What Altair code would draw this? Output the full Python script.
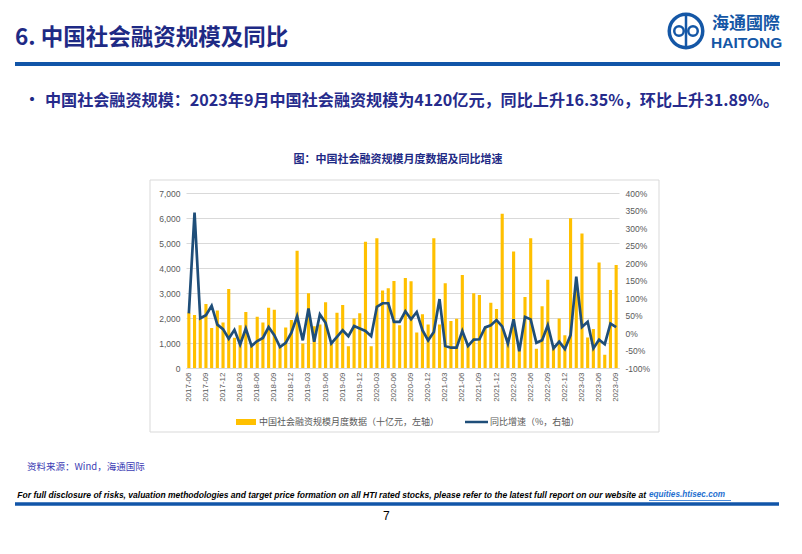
import altair as alt
import pandas as pd

# ---------------- data ----------------
months = []
_y, _m = 2017, 6
while (_y, _m) <= (2023, 9):
    months.append(f"{_y}-{_m:02d}")
    _m += 1
    if _m > 12:
        _y += 1
        _m = 1

tick_labels = months[::3]

# 中国社会融资规模月度数据（十亿元，左轴）
tsf = [2210, 2120, 1960, 2560, 1600, 2300, 1820, 3160, 1210, 1710,
       2240, 880, 2050, 1820, 2410, 2330, 850, 1620, 1920, 4690,
       980, 2990, 1670, 1740, 2630, 980, 2210, 2520, 870, 1980,
       2190, 5050, 870, 5190, 3100, 3190, 3480, 1710, 3600, 3470,
       1420, 2150, 1740, 5190, 1740, 3390, 1880, 1970, 3720, 920,
       2990, 2920, 1600, 2610, 2360, 6170, 1220, 4660, 910, 2840,
       5190, 770, 2470, 3530, 850, 1980, 1310, 5990, 3160, 5380,
       1220, 1560, 4220, 530, 3120, 4120]

# 同比增速（%，右轴）
yoy = [56, 344, 42, 51, 78, 24, 11, -16, 9, -33,
       13, -37, -23, -14, 17, -6, -40, -28, 1, 48,
       -21, 70, -25, 53, 29, -30, -11, 8, -9, 20,
       13, 6, -9, 75, 85, 85, 32, 32, 62, 39,
       60, 8, -21, 3, 97, -37, -42, -42, 6, -37,
       -19, -18, 16, 22, 37, 19, -30, 39, -52, 46,
       39, -28, -21, 22, -44, -25, -46, -6, 161, 17,
       32, -44, -19, -32, 27, 17]

left_ticks = [0, 1000, 2000, 3000, 4000, 5000, 6000, 7000]
right_ticks = [-100, -50, 0, 50, 100, 150, 200, 250, 300, 350, 400]

df = pd.DataFrame({"month": months, "tsf": tsf, "yoy": yoy})
one = pd.DataFrame({"k": [0]})

# ---------------- layout ----------------
PL, PT = 186, 193          # page position of the plot area
W, H = 433, 175


def px(x):
    return x - PL


def py(y):
    return y - PT


CJK = "Noto Sans CJK SC"
GRAY = "#595959"

# ---------------- main chart ----------------
xscale = alt.Scale(paddingInner=0.45, paddingOuter=0.225)

bars = alt.Chart(df).mark_bar(color="#FFC000").encode(
    x=alt.X("month:N", sort=None, scale=xscale,
            axis=alt.Axis(values=tick_labels, labelAngle=-90, title=None,
                          labelFont="Liberation Sans", labelFontSize=8,
                          labelColor=GRAY, ticks=False, domainColor="#D9D9D9",
                          labelPadding=4)),
    y=alt.Y("tsf:Q", scale=alt.Scale(domain=[0, 7000], nice=False),
            axis=alt.Axis(values=left_ticks, format=",d", title=None, orient="left",
                          labelFont="Liberation Sans", labelFontSize=8.5,
                          labelColor=GRAY, ticks=False, domain=False,
                          grid=True, gridColor="#D9D9D9", labelPadding=6)),
)

line = alt.Chart(df).mark_line(color="#1F4E79", strokeWidth=2.7).encode(
    x=alt.X("month:N", sort=None),
    y=alt.Y("yoy:Q", scale=alt.Scale(domain=[-100, 400], nice=False),
            axis=alt.Axis(values=right_ticks, labelExpr="datum.value + '%'",
                          title=None, orient="right",
                          labelFont="Liberation Sans", labelFontSize=8.5,
                          labelColor=GRAY, ticks=False, domain=False,
                          grid=False, labelPadding=6)),
)


def text(s, x, y, size, color, weight="normal", align="left", font=CJK,
         style="normal", baseline="middle"):
    return alt.Chart(one).mark_text(
        text=s, fontSize=size, color=color, fontWeight=weight, align=align,
        font=font, fontStyle=style, baseline=baseline,
    ).encode(x=alt.value(px(x)), y=alt.value(py(y)))


def hrule(x1, x2, y, color, width):
    return alt.Chart(one).mark_rule(color=color, strokeWidth=width).encode(
        x=alt.value(px(x1)), x2=alt.value(px(x2)), y=alt.value(py(y)))


def rect(x1, x2, y1, y2, **kw):
    return alt.Chart(one).mark_rect(**kw).encode(
        x=alt.value(px(x1)), x2=alt.value(px(x2)),
        y=alt.value(py(y1)), y2=alt.value(py(y2)))


def ring(cx, cy, r, r2, color):
    return alt.Chart(one).mark_arc(radius=r, radius2=r2, theta=0, theta2=6.2832,
                                   color=color).encode(
        x=alt.value(px(cx)), y=alt.value(py(cy)))


NAVY = "#1E2A85"
BLUE = "#1457A6"

frame = rect(150, 659, 180, 432, fill="white", fillOpacity=0, stroke="#D9D9D9",
             strokeWidth=1)

layers = [
    frame,
    # header
    text("6. 中国社会融资规模及同比", 15, 38, 22.5, NAVY, weight="bold"),
    ring(686, 31, 18.5, 15, BLUE),
    ring(679, 31, 6, 3.5, BLUE),
    ring(693, 31, 6, 3.5, BLUE),
    alt.Chart(one).mark_rule(color=BLUE, strokeWidth=2.5).encode(
        x=alt.value(px(686)), y=alt.value(py(16)), y2=alt.value(py(46))),
    text("海通國際", 712, 24, 17, BLUE, weight="bold"),
    text("HAITONG", 711, 43, 15.5, BLUE, weight="bold", font="Liberation Sans"),
    hrule(15, 780, 64, "#1155A8", 4),
    # bullet
    text("•", 24, 100, 16, NAVY, weight="bold"),
    text("中国社会融资规模：2023年9月中国社会融资规模为4120亿元，同比上升16.35%，环比上升31.89%。",
         45, 101, 16.1, "#262B8C", weight="bold"),
    text("图：中国社会融资规模月度数据及同比增速", 398, 160, 11, NAVY, weight="bold",
         align="center"),
    # legend
    rect(236, 256, 419, 425, fill="#FFC000"),
    text("中国社会融资规模月度数据（十亿元，左轴）", 259, 422, 9, GRAY),
    hrule(465, 488, 422, "#1F4E79", 2.5),
    text("同比增速（%，右轴）", 490, 422, 9, GRAY),
    # footer
    text("资料来源：Wind，海通国际", 27, 467, 9.5, "#3C3CB4"),
    text("For full disclosure of risks, valuation methodologies and target price formation on all HTI rated stocks, please refer to the latest full report on our website at",
         646, 495, 8.5, "black", weight="bold", align="right",
         font="Liberation Sans", style="italic"),
    text("equities.htisec.com", 649, 495, 8.2, "#1F6FD0", weight="bold",
         font="Liberation Sans", style="italic"),
    hrule(649, 731, 500.5, "#1F6FD0", 0.8),
    hrule(15, 779, 504, "#1155A8", 3.5),
    text("7", 383, 516, 12, "black", font="Liberation Sans"),
]

main = alt.layer(bars, line).resolve_scale(y="independent")

chart = alt.layer(*layers[:1], main, *layers[1:]).resolve_scale(y="independent").properties(
    width=W, height=H,
    padding={"left": PL - 8, "top": PT - 8, "right": 786 - (PL - 8) - W,
             "bottom": 538 - (PT - 8) - H},
    autosize=alt.AutoSizeParams(type="none"),
    background="white",
).configure_view(stroke=None)

chart.save("out.html", embed_options={"renderer": "svg", "actions": False})
